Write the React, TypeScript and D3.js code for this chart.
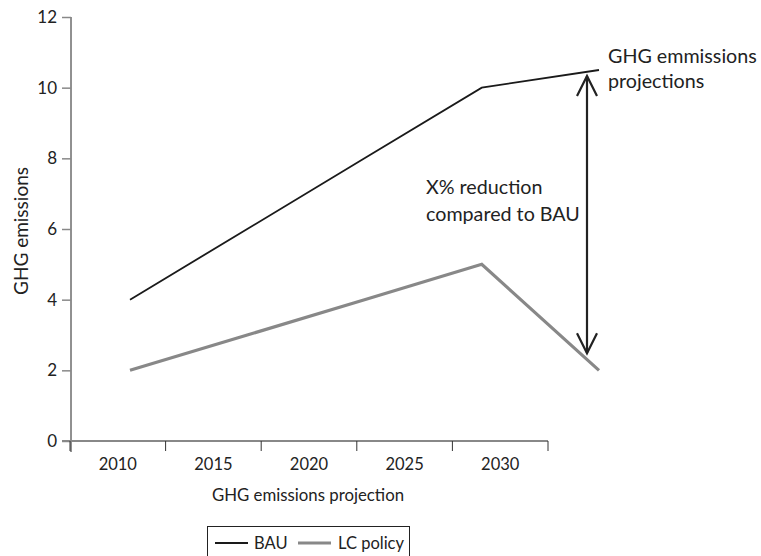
import React, { useEffect, useRef } from 'react';
import * as d3 from 'd3';

const years = ['2010', '2015', '2020', '2025', '2030'];
const bau = [4, 6, 8, 10, 10.5];
const lcPolicy = [2, 3, 4, 5, 2];
const yTicks = [0, 2, 4, 6, 8, 10, 12];

const FONT = 'Lato, "Open Sans", sans-serif';

export default function App() {
  const ref = useRef<SVGSVGElement>(null);

  useEffect(() => {
    const svg = d3.select(ref.current);
    svg.selectAll('*').remove();

    const yScale = d3.scaleLinear().domain([0, 12]).range([441, 17]);
    // axis categories sit in bands, the lines use their own spacing (as in the original)
    const xBand = d3.scaleBand().domain(years).range([70, 548]);
    const xLine = d3.scalePoint().domain(years).range([130, 599]);

    // y axis
    const yAxis = d3.axisLeft(yScale).tickValues(yTicks).tickSize(9).tickPadding(5);
    const gy = svg.append('g').attr('transform', 'translate(71,0)').call(yAxis);
    gy.select('.domain').attr('stroke', '#222').attr('d', 'M0,17V452');
    gy.selectAll('.tick line').attr('stroke', '#888').attr('stroke-width', 1.5);
    gy.selectAll('.tick text').attr('font-family', FONT).attr('font-size', 17).attr('fill', '#222');

    // x axis
    const xAxis = d3.axisBottom(xBand).tickSize(0).tickPadding(17);
    const gx = svg.append('g').attr('transform', 'translate(0,441)').call(xAxis);
    gx.select('.domain').attr('stroke', '#888').attr('stroke-width', 2).attr('d', 'M62,0H548');
    gx.selectAll('.tick text').attr('font-family', FONT).attr('font-size', 16.5).attr('fill', '#222');
    const edges = years.map(y => xBand(y) as number).concat([xBand.range()[1]]);
    gx.selectAll('line.edge')
      .data(edges)
      .enter()
      .append('line')
      .attr('class', 'edge')
      .attr('x1', d => d)
      .attr('x2', d => d)
      .attr('y1', 0)
      .attr('y2', 10)
      .attr('stroke', '#333')
      .attr('stroke-width', 1);

    // axis titles
    svg.append('text')
      .attr('transform', 'translate(28,231) rotate(-90)')
      .attr('text-anchor', 'middle')
      .attr('font-family', FONT)
      .attr('font-size', 19)
      .attr('fill', '#222')
      .text('GHG emissions');
    svg.append('text')
      .attr('x', 308)
      .attr('y', 501)
      .attr('text-anchor', 'middle')
      .attr('font-family', FONT)
      .attr('font-size', 16.8)
      .attr('fill', '#222')
      .text('GHG emissions projection');

    // lines
    const line = d3.line<number>()
      .x((d, i) => xLine(years[i]) as number)
      .y(d => yScale(d));
    svg.append('path').attr('d', line(bau)).attr('fill', 'none')
      .attr('stroke', '#1a1a1a').attr('stroke-width', 1.8);
    svg.append('path').attr('d', line(lcPolicy)).attr('fill', 'none')
      .attr('stroke', '#888').attr('stroke-width', 3.2);

    // double arrow between BAU and LC policy
    const ax = 587;
    const top = yScale(bau[4]) + 6;
    const bottom = yScale(lcPolicy[4]) - 17;
    const arrow = svg.append('g').attr('stroke', '#222').attr('stroke-width', 2.2).attr('fill', 'none');
    arrow.append('line').attr('x1', ax).attr('x2', ax).attr('y1', top).attr('y2', bottom);
    arrow.append('path').attr('d', `M${ax - 10},${top + 20}L${ax},${top}L${ax + 10},${top + 20}`);
    arrow.append('path').attr('d', `M${ax - 10},${bottom - 20}L${ax},${bottom}L${ax + 10},${bottom - 20}`);

    // annotations
    const note = (x: number, y: number, t: string) =>
      svg.append('text').attr('x', x).attr('y', y)
        .attr('font-family', FONT).attr('font-size', 19.7).attr('fill', '#222').text(t);
    note(608, 63, 'GHG emmissions');
    note(608, 88, 'projections');
    note(426, 194, 'X% reduction');
    note(426, 221, 'compared to BAU');

    // legend
    const lg = svg.append('g');
    lg.append('rect').attr('x', 207.5).attr('y', 526.5).attr('width', 202).attr('height', 40)
      .attr('fill', 'none').attr('stroke', '#222').attr('stroke-width', 1);
    lg.append('line').attr('x1', 215).attr('x2', 248).attr('y1', 543).attr('y2', 543)
      .attr('stroke', '#1a1a1a').attr('stroke-width', 1.8);
    lg.append('text').attr('x', 254).attr('y', 549).attr('font-family', FONT).attr('font-size', 16.5)
      .attr('fill', '#222').text('BAU');
    lg.append('line').attr('x1', 298).attr('x2', 331).attr('y1', 543).attr('y2', 543)
      .attr('stroke', '#888').attr('stroke-width', 3.2);
    lg.append('text').attr('x', 338).attr('y', 549).attr('font-family', FONT).attr('font-size', 16.5)
      .attr('fill', '#222').text('LC policy');
  }, []);

  return (
    <svg
      ref={ref}
      width={761}
      height={556}
      style={{ position: 'absolute', left: 0, top: 0, background: '#fff' }}
    />
  );
}
